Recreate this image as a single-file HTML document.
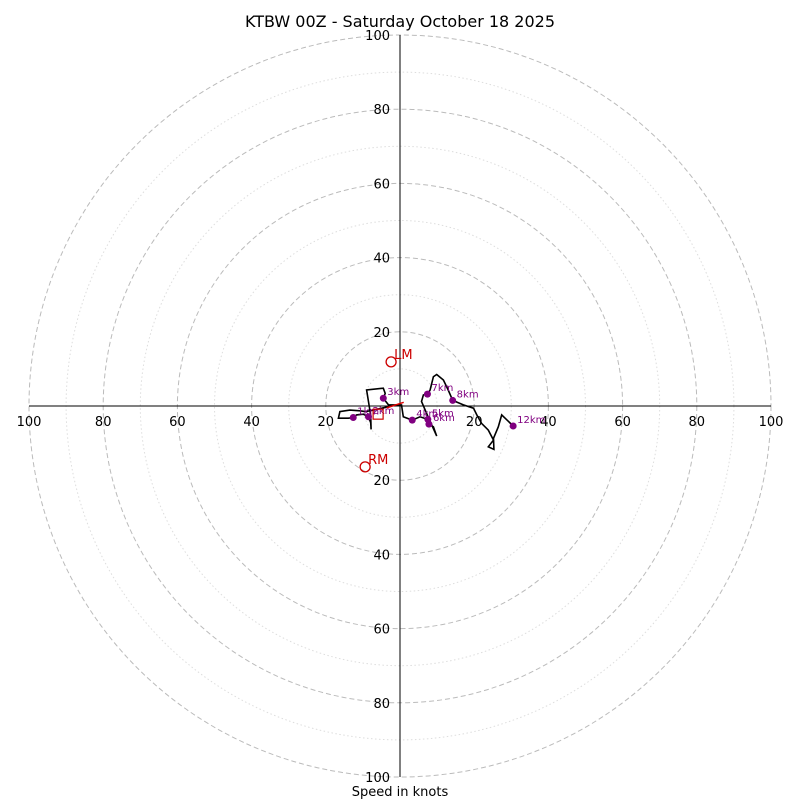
<!DOCTYPE html>
<html><head><meta charset="utf-8"><style>
body{margin:0;background:#fff}
svg text{font-family:"DejaVu Sans","Liberation Sans",sans-serif}
</style></head><body>
<svg id="chart" width="800" height="800">
<text x="400" y="27" text-anchor="middle" font-size="16">KTBW 00Z - Saturday October 18 2025</text>
<text x="400" y="796" text-anchor="middle" font-size="13">Speed in knots</text>
<g id="rings"></g><g id="axes"></g><g id="trace"></g><g id="marks"></g>
</svg>
<script>
const ringValues=[10,20,30,40,50,60,70,80,90,100];
const tickLabels=[20,40,60,80,100];
const traceU=[-3.1,-8.1,-9.4,-10.8,-13.5,-16.2,-16.6,-13.9,-12.6,-11.7,-9.9,-8.5,-7.9,-7.8,-7.9,-9.0,-4.5,-4.0,-4.5,-3.1,0.4,0.9,3.3,5.4,7.5,7.8,9.0,9.9,7.6,5.8,6.3,7.4,8.1,9.0,9.9,11.7,13.0,14.2,17.1,19.8,20.7,22.0,23.8,25.2,23.8,25.3,25.2,26.5,27.4,30.5];
const traceV=[-0.2,-1.3,-1.5,-1.3,-1.1,-1.5,-3.3,-3.3,-3.1,-2.4,-2.2,-2.9,-4.5,-6.3,-2.5,4.3,4.8,3.4,2.1,0.3,0.3,-2.9,-3.8,-2.9,-3.6,-4.9,-5.6,-8.1,-3.0,1.2,3.0,3.2,4.3,7.9,8.5,7.0,4.3,1.5,0.3,-0.6,-2.4,-4.7,-6.5,-9.2,-11.0,-11.7,-8.7,-5.6,-2.4,-5.4];
const heightLabels=["1km","2km","3km","4km","5km","6km","7km","8km","12km"];
const heightU=[-12.6,-8.5,-4.5,3.3,7.5,7.8,7.4,14.2,30.5];
const heightV=[-3.1,-2.9,2.1,-3.8,-3.6,-4.9,3.2,1.5,-5.4];
const motionLabels=["LM","RM"];
const motionU=[-2.4,-9.4];
const motionV=[11.9,-16.4];
const meanWindU=-5.9, meanWindV=-2.2;
const cx=400,cy=406,R=371,maxV=100;
const sx=u=>cx+u/maxV*R, sy=v=>cy-v/maxV*R, sr=s=>s/maxV*R;
const NS="http://www.w3.org/2000/svg";
function mk(tag,attrs,parent,txt){const e=document.createElementNS(NS,tag);for(const k in attrs)e.setAttribute(k,attrs[k]);if(txt!==undefined)e.textContent=txt;document.getElementById(parent).appendChild(e);return e;}
ringValues.forEach(r=>{
 const major=r%20===0;
 const c=mk('circle',{cx:cx,cy:cy,r:sr(r),fill:'none',stroke:major?'#bbb':'#ddd','stroke-width':1,'stroke-dasharray':major?'5,3':'1.5,2.5'},'rings');
 
 
});
let a=mk('line',{x1:sx(-100),x2:sx(100),y1:cy,y2:cy,stroke:'#000'},'axes');


a=mk('line',{x1:cx,x2:cx,y1:sy(100),y2:sy(-100),stroke:'#000'},'axes');


tickLabels.forEach(t=>{
 [-1,1].forEach(s=>{
  let e=mk('text',{x:sx(s*t),y:cy+20,'text-anchor':'middle','font-size':13},'axes',String(t));
  
  
  e=mk('text',{x:cx-10,y:sy(s*t)+5,'text-anchor':'end','font-size':13},'axes',String(t));
  
  
 });
});
const pts=traceU.map((u,i)=>sx(u).toFixed(1)+','+sy(traceV[i]).toFixed(1)).join(' ');
const pl=mk('polyline',{points:pts,fill:'none',stroke:'#000','stroke-width':1.6},'trace');


const sh=mk('line',{x1:sx(-3.6),y1:sy(-0.5),x2:sx(1),y2:sy(1),stroke:'#d00','stroke-width':1.5},'trace');


heightLabels.forEach((l,i)=>{
 const c=mk('circle',{cx:sx(heightU[i]),cy:sy(heightV[i]),r:3.5,fill:'#800080'},'marks');
 
 
 const t=mk('text',{x:sx(heightU[i])+4,y:sy(heightV[i])-3,'font-size':10,fill:'#800080'},'marks',l);
 
 
});
motionLabels.forEach((l,i)=>{
 const c=mk('circle',{cx:sx(motionU[i]),cy:sy(motionV[i]),r:5,fill:'none',stroke:'#c00','stroke-width':1.3},'marks');
 
 
 const t=mk('text',{x:sx(motionU[i])+3,y:sy(motionV[i])-3,'font-size':13,fill:'#c00'},'marks',l);
 
 
});
const sq=mk('rect',{x:sx(meanWindU)-5,y:sy(meanWindV)-5,width:10,height:10,fill:'none',stroke:'#c00','stroke-width':1.2},'marks');


</script>
</body></html>
